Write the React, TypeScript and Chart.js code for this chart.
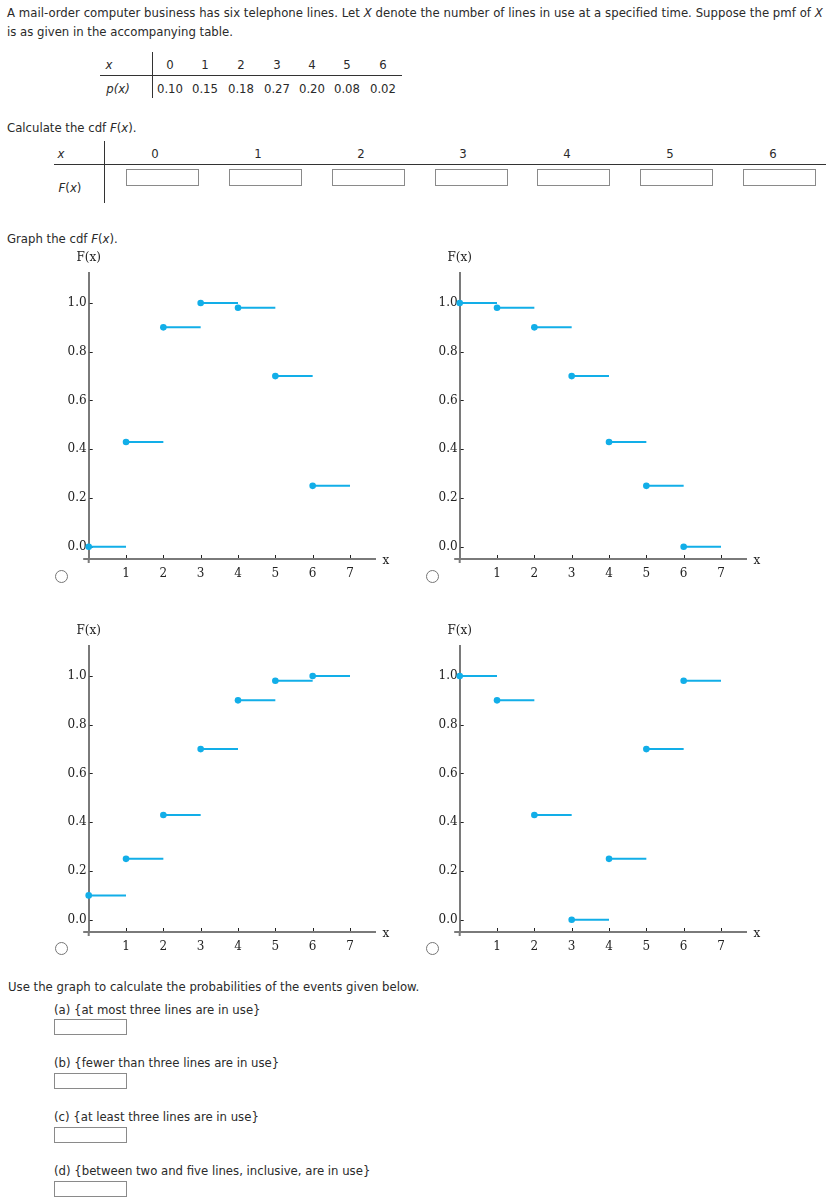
import React, { useEffect, useRef } from 'react';
import { Chart, registerables } from 'chart.js';

Chart.register(...registerables);

// ---------- data ----------
const xValues = [0, 1, 2, 3, 4, 5, 6];
const pmfValues = ['0.10', '0.15', '0.18', '0.27', '0.20', '0.08', '0.02'];
const optionA = [0.0, 0.43, 0.9, 1.0, 0.98, 0.7, 0.25];
const optionB = [1.0, 0.98, 0.9, 0.7, 0.43, 0.25, 0.0];
const optionC = [0.1, 0.25, 0.43, 0.7, 0.9, 0.98, 1.0];
const optionD = [1.0, 0.9, 0.43, 0.0, 0.25, 0.7, 0.98];
const yTickStep = 0.2;
const xTickStep = 1;
const questions = [
  '(a) {at most three lines are in use}',
  '(b) {fewer than three lines are in use}',
  '(c) {at least three lines are in use}',
  '(d) {between two and five lines, inclusive, are in use}',
];

// ---------- styles ----------
const BLUE = '#12aee8';
const AXIS = '#7a7a7a';
const TEXT = '#2a2a2a';
const SANS = '"DejaVu Sans Condensed", "DejaVu Sans", sans-serif';
const SERIF = '"DejaVu Serif", serif';

type Pt = { x: number; y: number | null; start?: boolean };

function segments(values: number[]): Pt[] {
  const pts: Pt[] = [];
  values.forEach((v, i) => {
    const x0 = xValues[i];
    pts.push({ x: x0, y: v, start: true });
    pts.push({ x: x0 + 1, y: v });
    pts.push({ x: x0 + 1, y: null });
  });
  return pts;
}

const axisExtras = {
  id: 'axisExtras',
  beforeDatasetsDraw(chart: any) {
    const { ctx, chartArea, scales } = chart;
    const xs = scales.x;
    const ys = scales.y;
    ctx.save();
    // axis extensions
    ctx.strokeStyle = AXIS;
    ctx.lineWidth = 2;
    ctx.beginPath();
    ctx.moveTo(chartArea.left - 5.5, chartArea.bottom);
    ctx.lineTo(chartArea.left, chartArea.bottom);
    ctx.moveTo(chartArea.left, chartArea.bottom);
    ctx.lineTo(chartArea.left, chartArea.bottom + 4);
    ctx.stroke();
    // inward ticks
    ctx.strokeStyle = '#222';
    ctx.lineWidth = 1;
    ctx.beginPath();
    xs.ticks.forEach((t: any) => {
      if (t.value === 0) return;
      const px = Math.round(xs.getPixelForValue(t.value)) + 0.5;
      ctx.moveTo(px, chartArea.bottom - 1);
      ctx.lineTo(px, chartArea.bottom - 4);
    });
    ys.ticks.forEach((t: any) => {
      const py = Math.round(ys.getPixelForValue(t.value)) + 0.5;
      ctx.moveTo(chartArea.left + 1, py);
      ctx.lineTo(chartArea.left + 4, py);
    });
    ctx.stroke();
    // axis titles
    ctx.fillStyle = '#222';
    ctx.font = '12px ' + SERIF;
    ctx.textAlign = 'center';
    ctx.textBaseline = 'middle';
    ctx.fillText('F(x)', xs.getPixelForValue(0), chartArea.top - 14.5);
    ctx.fillText('x', chartArea.right + 11, chartArea.bottom + 2);
    ctx.restore();
  },
};

function CdfChart({ values, left, top }: { values: number[]; left: number; top: number }) {
  const ref = useRef<HTMLCanvasElement | null>(null);
  useEffect(() => {
    if (!ref.current) return;
    const tickFont = { family: SERIF, size: 12 };
    const chart = new Chart(ref.current, {
      type: 'line',
      data: {
        datasets: [
          {
            data: segments(values) as any,
            borderColor: BLUE,
            borderWidth: 2,
            backgroundColor: BLUE,
            pointBackgroundColor: BLUE,
            pointBorderWidth: 0,
            pointRadius: (c: any) => (c.raw && c.raw.start ? 3.3 : 0),
            pointHoverRadius: 0,
            spanGaps: false,
            tension: 0,
            clip: 8,
          } as any,
        ],
      },
      options: {
        animation: false,
        responsive: false,
        maintainAspectRatio: false,
        events: [],
        layout: { padding: { left: 18.7, right: 35, top: 32.7, bottom: 6 } },
        plugins: { legend: { display: false }, tooltip: { enabled: false } },
        scales: {
          x: {
            type: 'linear',
            min: 0,
            max: 7.67,
            position: 'bottom',
            grid: { display: false, drawTicks: false },
            border: { display: true, color: AXIS, width: 2 },
            ticks: {
              stepSize: xTickStep,
              includeBounds: false,
              autoSkip: false,
              maxRotation: 0,
              padding: 7.5,
              color: '#222',
              font: tickFont,
              callback: (v: any) => (Number(v) === 0 ? '' : String(v)),
            },
            afterFit: (s: any) => {
              s.height = 25;
            },
          },
          y: {
            type: 'linear',
            min: -0.05,
            max: 1.124,
            position: 'left',
            grid: { display: false, drawTicks: false },
            border: { display: true, color: AXIS, width: 2 },
            ticks: {
              stepSize: yTickStep,
              includeBounds: false,
              autoSkip: false,
              padding: 2,
              color: '#222',
              font: tickFont,
              callback: (v: any) => Number(v).toFixed(1),
            },
            afterFit: (s: any) => {
              s.width = 30;
            },
          },
        },
      },
      plugins: [axisExtras],
    });
    return () => chart.destroy();
  }, [values]);
  return (
    <canvas
      ref={ref}
      width={370}
      height={350}
      style={{ position: 'absolute', left, top, width: 370, height: 350 }}
    />
  );
}

const abs = (left: number, top: number, extra: React.CSSProperties = {}): React.CSSProperties => ({
  position: 'absolute',
  left,
  top,
  whiteSpace: 'nowrap',
  lineHeight: '19px',
  ...extra,
});

const Box = ({ left, top, h = 17 }: { left: number; top: number; h?: number }) => (
  <div
    style={{
      position: 'absolute',
      left,
      top,
      width: 73,
      height: h,
      boxSizing: 'border-box',
      border: '1px solid #8a8a8a',
      background: '#fff',
    }}
  />
);

const Radio = ({ cx, cy }: { cx: number; cy: number }) => (
  <input
    type="radio"
    name="cdf"
    style={{ position: 'absolute', left: cx - 6.5, top: cy - 6.5, width: 13, height: 13, margin: 0 }}
  />
);

const centered = (cx: number, cy: number, text: React.ReactNode, key?: any, extra: React.CSSProperties = {}) => (
  <div
    key={key}
    style={{
      position: 'absolute',
      left: cx - 30,
      top: cy - 9.5,
      width: 60,
      textAlign: 'center',
      lineHeight: '19px',
      whiteSpace: 'nowrap',
      ...extra,
    }}
  >
    {text}
  </div>
);

const pmfCols = [170, 205, 241, 277, 312, 347, 383];
const cdfCols = [155, 258, 361, 463, 567, 670, 773];
const cdfBoxes = [126, 229, 332, 435, 537, 640, 743];
const qTops = [999.5, 1052.8, 1107.2, 1161.2];
const qBoxes = [1019, 1073, 1127, 1181];

export default function App() {
  return (
    <div
      style={{
        position: 'absolute',
        left: 0,
        top: 0,
        width: 832,
        height: 1204,
        background: '#fff',
        fontFamily: SANS,
        fontSize: 13,
        color: TEXT,
        overflow: 'hidden',
      }}
    >
      <div style={abs(7, 2.5, { letterSpacing: '0.04px' })}>
        A mail-order computer business has six telephone lines. Let <i>X</i> denote the number of lines in use at a
        specified time. Suppose the pmf of <i>X</i>
      </div>
      <div style={abs(7, 21.5)}>is as given in the accompanying table.</div>

      {/* pmf table */}
      <div style={{ position: 'absolute', left: 152, top: 52, width: 1, height: 46, background: '#333' }} />
      <div style={{ position: 'absolute', left: 100, top: 75, width: 302, height: 1, background: '#333' }} />
      {centered(109, 64, <i>x</i>)}
      {centered(118, 88, <i>p(x)</i>)}
      {xValues.map((v, i) => centered(pmfCols[i], 64, String(v), 'h' + i))}
      {pmfValues.map((v, i) => centered(pmfCols[i], 88, v, 'p' + i))}

      <div style={abs(7, 117.5)}>
        Calculate the cdf <i>F</i>(<i>x</i>).
      </div>

      {/* cdf table */}
      <div style={{ position: 'absolute', left: 104, top: 141, width: 1, height: 62, background: '#333' }} />
      <div style={{ position: 'absolute', left: 54, top: 163.5, width: 772, height: 1, background: '#333' }} />
      {centered(61, 153, <i>x</i>)}
      {centered(70, 187, <><i>F</i>(<i>x</i>)</>)}
      {xValues.map((v, i) => centered(cdfCols[i], 153, String(v), 'c' + i))}
      {cdfBoxes.map((l, i) => (
        <Box key={'b' + i} left={l} top={169} />
      ))}

      <div style={abs(7, 228.5)}>
        Graph the cdf <i>F</i>(<i>x</i>).
      </div>

      <CdfChart values={optionA} left={40} top={240} />
      <CdfChart values={optionB} left={411.3} top={240} />
      <CdfChart values={optionC} left={40} top={612.7} />
      <CdfChart values={optionD} left={411.3} top={612.7} />

      <Radio cx={61} cy={576} />
      <Radio cx={432} cy={576} />
      <Radio cx={61} cy={948.5} />
      <Radio cx={432} cy={948.5} />

      <div style={abs(8, 976.5)}>Use the graph to calculate the probabilities of the events given below.</div>
      {questions.map((q, i) => (
        <div key={'q' + i} style={abs(54, qTops[i])}>
          {q}
        </div>
      ))}
      {qBoxes.map((t, i) => (
        <Box key={'qb' + i} left={54} top={t} h={16} />
      ))}
    </div>
  );
}
